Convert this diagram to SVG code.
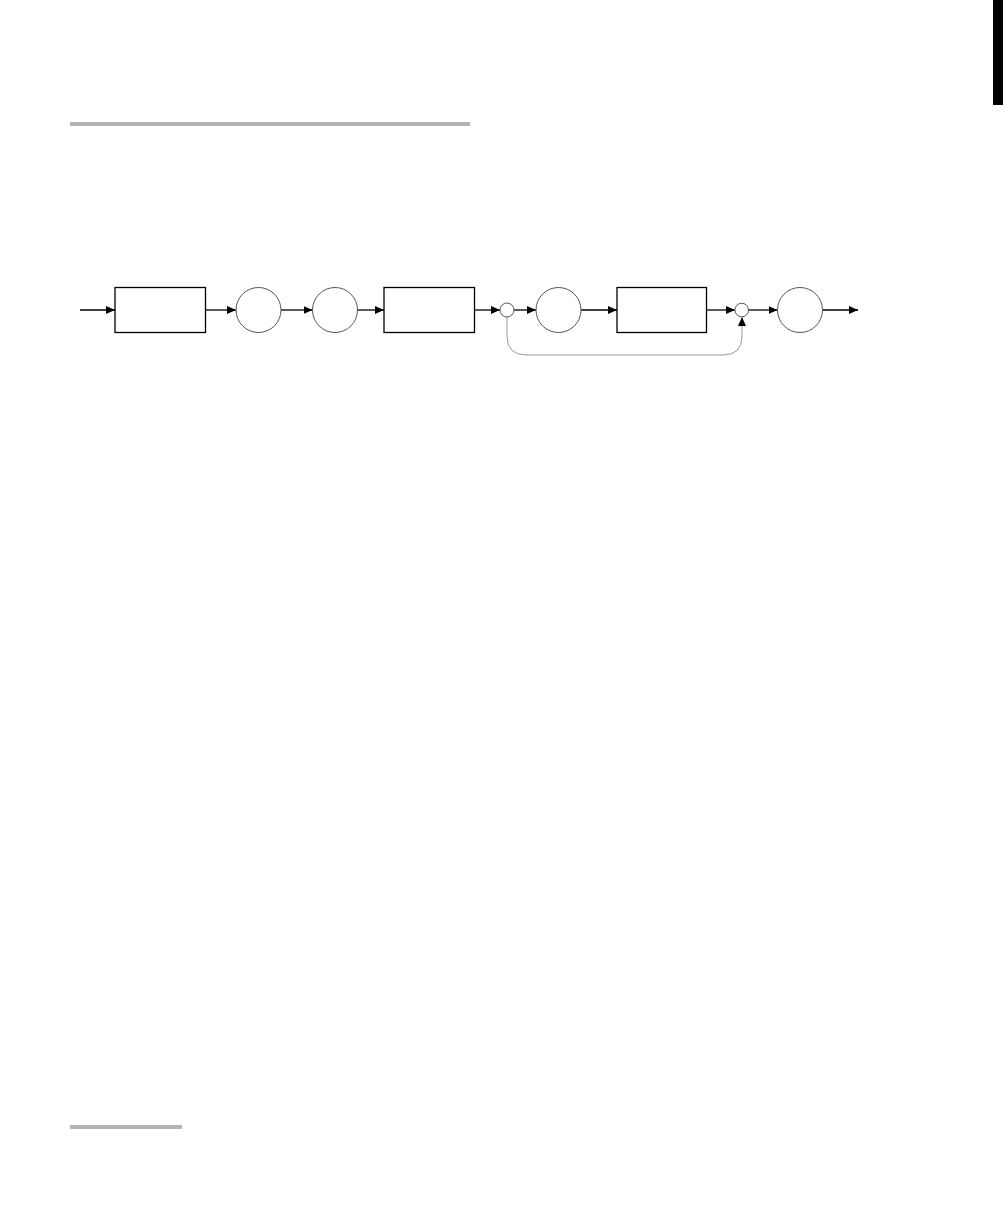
<svg xmlns="http://www.w3.org/2000/svg" width="1008" height="1224" viewBox="0 0 1008 1224">
<style>
.box{fill:#fff;stroke:#000;stroke-width:1.3}
.node{fill:#fff;stroke:#555;stroke-width:1}
.wire{fill:none;stroke:#000;stroke-width:1.3}
.fb{fill:none;stroke:#999;stroke-width:1}
.rule{fill:#b3b3b3}
</style>
<defs>
<marker id="ah" markerUnits="userSpaceOnUse" markerWidth="10" markerHeight="9" refX="9" refY="4" orient="auto">
<path d="M0,0 L9,4 L0,8 Z" fill="#000"/>
</marker>
</defs>
<rect width="1008" height="1224" fill="#fff"/>
<rect x="993" y="0" width="10" height="105" fill="#000"/>
<rect class="rule" x="70" y="122" width="400" height="4"/>
<rect class="rule" x="70" y="1125" width="112" height="4"/>
<g id="connectors">
<path class="wire" d="M80,310 H115" marker-end="url(#ah)"/>
<path class="wire" d="M205.5,310 H236" marker-end="url(#ah)"/>
<path class="wire" d="M281,310 H312.5" marker-end="url(#ah)"/>
<path class="wire" d="M357.5,310 H384" marker-end="url(#ah)"/>
<path class="wire" d="M474.5,310 H500" marker-end="url(#ah)"/>
<path class="wire" d="M514,310 H536" marker-end="url(#ah)"/>
<path class="wire" d="M580.5,310 H617" marker-end="url(#ah)"/>
<path class="wire" d="M706.5,310 H735" marker-end="url(#ah)"/>
<path class="wire" d="M748.5,310 H777.5" marker-end="url(#ah)"/>
<path class="wire" d="M822.5,310 H858" marker-end="url(#ah)"/>
<path class="fb" d="M507,317 V336 Q507,355 526,355 H723 Q742,355 742,336 V317" marker-end="url(#ah)"/>
</g>
<g id="block1"><rect class="box" x="115" y="287.5" width="90.5" height="45"/></g>
<g id="node1"><circle class="node" cx="258.5" cy="310" r="22.5"/></g>
<g id="node2"><circle class="node" cx="335" cy="310" r="22.5"/></g>
<g id="block2"><rect class="box" x="384" y="287.5" width="90.5" height="45"/></g>
<g id="sum1"><circle class="node" cx="507" cy="310" r="7"/></g>
<g id="node3"><circle class="node" cx="558.5" cy="310" r="22.5"/></g>
<g id="block3"><rect class="box" x="617" y="287.5" width="89.5" height="45"/></g>
<g id="sum2"><circle class="node" cx="741.7" cy="310" r="6.8"/></g>
<g id="node4"><circle class="node" cx="800" cy="310" r="22.5"/></g>
</svg>
